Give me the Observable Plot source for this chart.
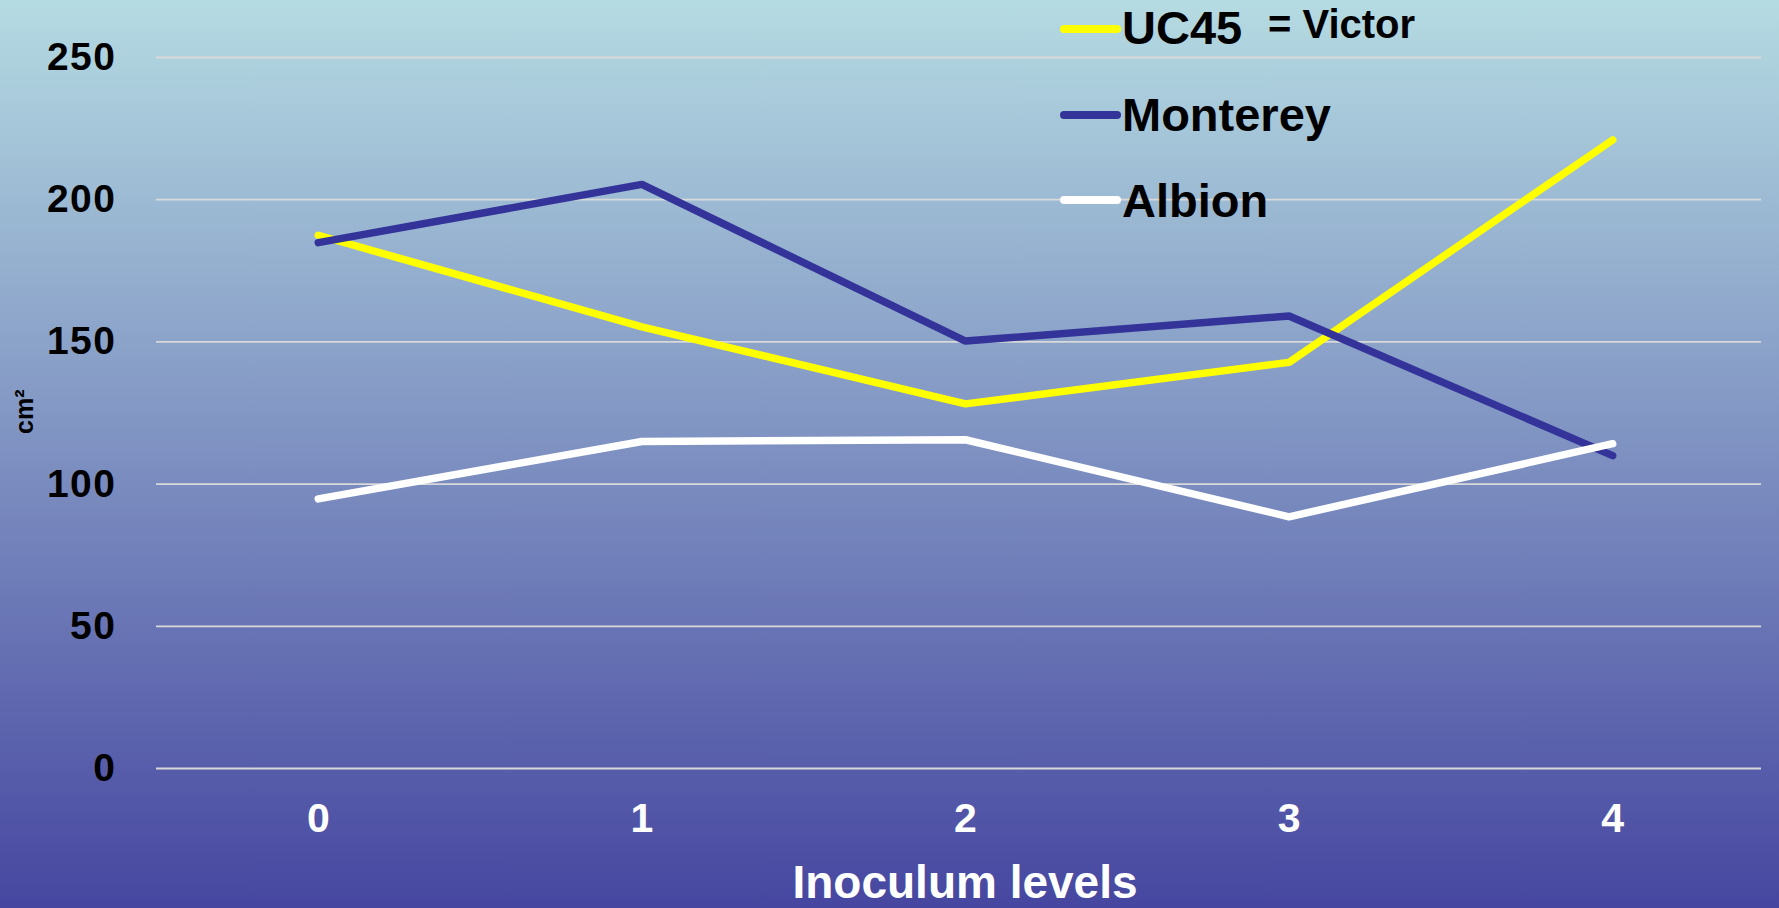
<!DOCTYPE html>
<html><head><meta charset="utf-8">
<script src="https://cdn.jsdelivr.net/npm/d3@7"></script>
<script src="https://cdn.jsdelivr.net/npm/@observablehq/plot@0.6"></script>
<style>
html,body{margin:0;padding:0;}
body{width:1779px;height:908px;overflow:hidden;background:linear-gradient(to bottom,#b5dbe2 0%,#4646a0 100%);font-family:"Liberation Sans",Arial,sans-serif;}
#chart svg{display:block;background:transparent;}
</style></head><body><div id="chart"></div>
<script>
const levels = [0, 1, 2, 3, 4];
const seriesNames = ["UC45", "Monterey", "Albion"];
const seriesColors = ["#ffff00", "#333399", "#ffffff"];
const uc45 = [187.5, 155.3, 128.2, 142.8, 221.0];
const monterey = [184.9, 205.4, 150.3, 159.1, 110.0];
const albion = [94.8, 115.0, 115.6, 88.5, 114.2];
const yTicks = [0, 50, 100, 150, 200, 250];
const xLabel = "Inoculum levels";
const yLabel = "cm²";
const legendNote = "= Victor";

const seriesValues = [uc45, monterey, albion];
const rows = [];
seriesNames.forEach((name, si) => {
  levels.forEach((lv, i) => rows.push({series: name, level: lv, value: seriesValues[si][i]}));
});

const W = 1779, H = 908;
const plot = Plot.plot({
  width: W, height: H,
  marginLeft: 156, marginRight: 18, marginTop: 57, marginBottom: 140,
  style: {background: "transparent", fontFamily: "'Liberation Sans', Arial, sans-serif"},
  x: {domain: [-0.5, 4.46]},
  y: {domain: [0, 250]},
  marks: [
    Plot.ruleY(yTicks, {stroke: "#d9d9d9", strokeWidth: 1.8}),
    Plot.axisY({ticks: yTicks, tickSize: 0, tickPadding: 40, fontSize: 39, fontWeight: "bold", fill: "#000", label: null}),
    Plot.axisX({ticks: levels, tickSize: 0, tickPadding: 34, fontSize: 41, fontWeight: "bold", fill: "#fff", label: null, tickFormat: d => String(d)}),
    ...seriesNames.map((name, si) => Plot.line(rows.filter(r => r.series === name), {
      x: "level", y: "value", stroke: seriesColors[si], strokeWidth: 7.5,
      strokeLinecap: "round", strokeLinejoin: "miter"
    })),
    Plot.text([yLabel], {frameAnchor: "left", dx: -132, dy: 21, rotate: -90, fontSize: 25, fontWeight: "bold", fill: "#000"}),
    Plot.text([xLabel], {frameAnchor: "bottom", dy: 129, dx: 6, fontSize: 46, fontWeight: "bold", fill: "#fff"})
  ]
});
document.getElementById("chart").appendChild(plot);

// widen y tick labels slightly (reference glyphs are horizontally stretched)
d3.select(plot).selectAll("g[aria-label='y-axis tick label'] text").attr("letter-spacing", 1.5);

// legend
const svg = d3.select(plot);
const lg = svg.append("g").attr("text-anchor", "start")
  .attr("font-family", "'Liberation Sans', Arial, sans-serif").attr("font-weight", "bold").attr("fill", "#000");
const lineY = [29, 115, 200];
const textY = [44, 131, 217];
seriesNames.forEach((name, i) => {
  lg.append("line").attr("x1", 1064).attr("x2", 1117).attr("y1", lineY[i]).attr("y2", lineY[i])
    .attr("stroke", seriesColors[i]).attr("stroke-width", 8).attr("stroke-linecap", "round");
  lg.append("text").attr("x", 1122).attr("y", textY[i]).attr("font-size", 47).attr("text-anchor", "start").text(name);
});
lg.append("text").attr("x", 1268).attr("y", 38).attr("font-size", 40).attr("text-anchor", "start").text(legendNote);
</script></body></html>
